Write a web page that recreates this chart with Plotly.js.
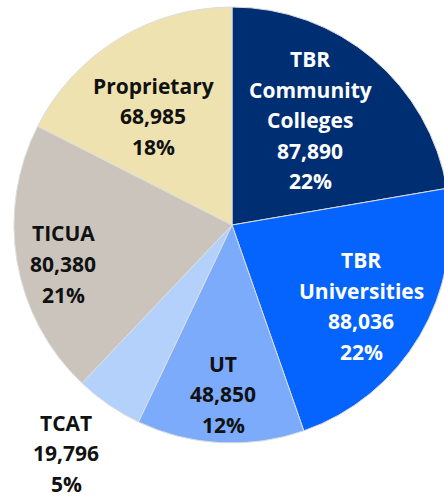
<!DOCTYPE html>
<html>
<head>
<meta charset="utf-8">
<script src="https://cdn.plot.ly/plotly-3.0.1.min.js"></script>
<style>
  html, body { margin: 0; padding: 0; overflow: hidden; background: #fff; }
  #chart { width: 464px; height: 498px; }
</style>
</head>
<body>
<div id="chart"></div>
<script>
// Enrollment by sector
const sectors = ['TBR<br>Community<br>Colleges', 'TBR<br>Universities', 'UT', 'TCAT', 'TICUA', 'Proprietary'];
const enrollment = [87890, 88036, 48850, 19796, 80380, 68985];
const shareLabels = ['22%', '22%', '12%', '5%', '21%', '18%'];

const sliceColors = ['#002E73', '#0564FE', '#7BABFA', '#B3D1FB', '#CAC4BD', '#EEE2B0'];
const labelColors = ['#ffffff', '#ffffff', '#111111', '#111111', '#111111', '#111111'];

// where each label block is centred (pixels in the page)
const labelSpots = [[310, 120], [361, 306], [223, 394], [66, 453], [63, 264], [153, 116]];

const W = 464, H = 498;
const M = {l: 14, r: 14, t: 7, b: 55};
const LINE_GAP = 30.5;

function buildLabels() {
    const plotW = W - M.l - M.r;
    const plotH = H - M.t - M.b;
    const notes = [];
    sectors.forEach(function(name, i) {
        const lines = name.split('<br>').concat([enrollment[i].toLocaleString('en-US'), shareLabels[i]]);
        const cx = labelSpots[i][0], cy = labelSpots[i][1];
        lines.forEach(function(line, k) {
            const py = cy + (k - (lines.length - 1) / 2) * LINE_GAP;
            notes.push({
                text: line,
                x: (cx - M.l) / plotW,
                y: 1 - (py - M.t) / plotH,
                xref: 'paper', yref: 'paper',
                xanchor: 'center', yanchor: 'middle',
                showarrow: false,
                font: {family: 'Open Sans', size: 21, color: labelColors[i], weight: 'bold'}
            });
        });
    });
    return notes;
}

function drawPie() {
    const trace = {
        type: 'pie',
        labels: sectors,
        values: enrollment,
        sort: false,
        direction: 'clockwise',
        rotation: 0,
        textinfo: 'none',
        hoverinfo: 'none',
        marker: {colors: sliceColors, line: {color: '#dddddd', width: 1}},
        showlegend: false
    };

    Plotly.newPlot('chart', [trace], {
        width: W,
        height: H,
        margin: M,
        paper_bgcolor: '#ffffff',
        font: {family: 'Open Sans'},
        annotations: buildLabels()
    }, {displayModeBar: false, staticPlot: true});
}

document.addEventListener('DOMContentLoaded', drawPie);
</script>
</body>
</html>
